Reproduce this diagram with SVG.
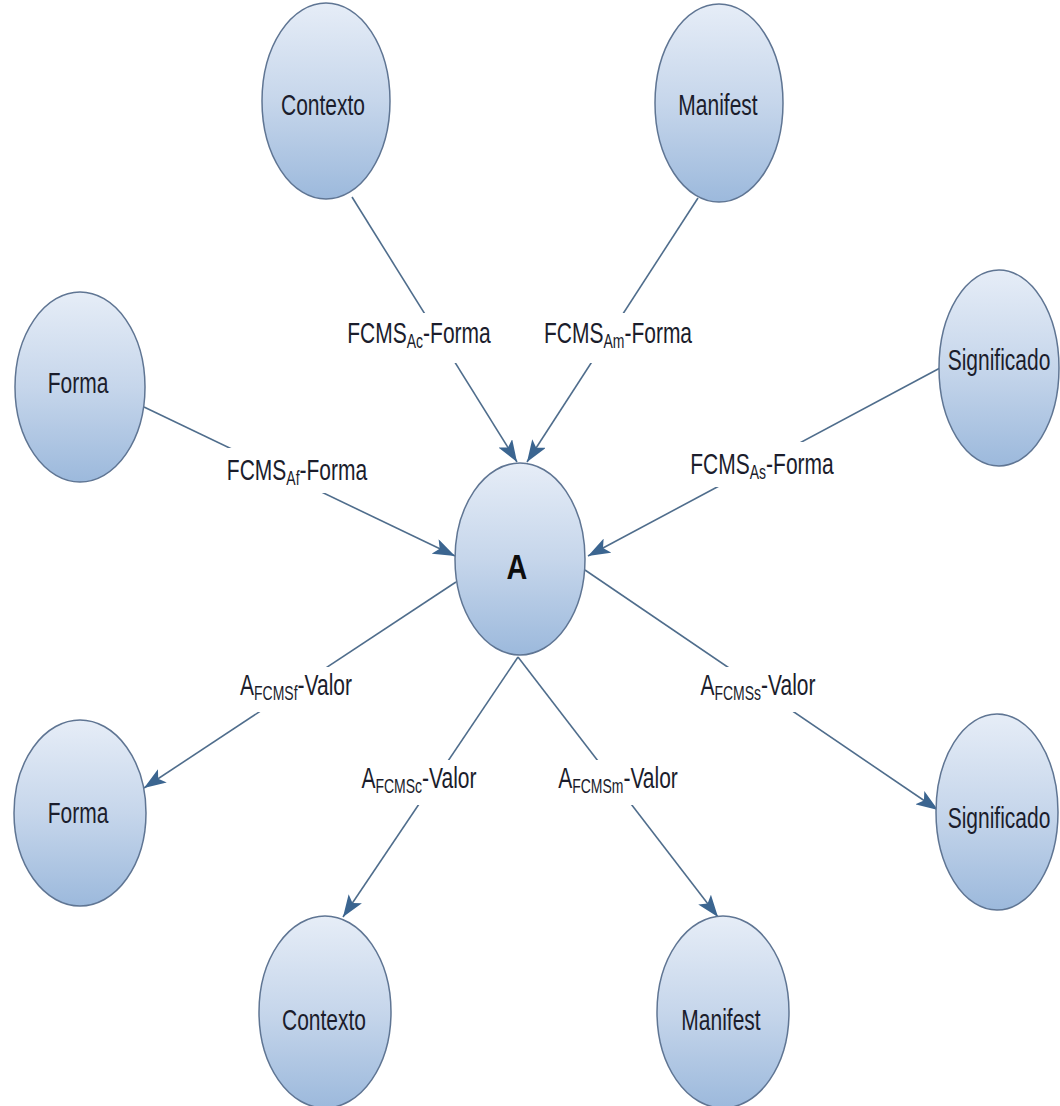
<svg xmlns="http://www.w3.org/2000/svg" width="1060" height="1106" viewBox="0 0 1060 1106">
  <defs>
    <linearGradient id="nodeFill" x1="0" y1="0" x2="0" y2="1">
      <stop offset="0" stop-color="#e6edf7"/>
      <stop offset="0.5" stop-color="#c6d6eb"/>
      <stop offset="1" stop-color="#9cb9dc"/>
    </linearGradient>
    <marker id="arrow" viewBox="0 0 22 16" refX="22" refY="8" markerWidth="22" markerHeight="16" markerUnits="userSpaceOnUse" orient="auto">
      <path d="M0,0 L22,8 L0,16 L5,8 Z" fill="#3b6590"/>
    </marker>
    <style>
      .node ellipse { fill: url(#nodeFill); stroke: #5f7593; stroke-width: 1.5; }
      .lbl { font-family: "Liberation Sans", Arial, sans-serif; font-size: 30px; fill: #1b1d2c; text-anchor: middle; }
      .big { font-family: "Liberation Sans", Arial, sans-serif; font-size: 36px; font-weight: bold; fill: #0d0d0d; text-anchor: middle; }
      .edge line { stroke: #4f6d8c; stroke-width: 1.6; marker-end: url(#arrow); }
      .gap { fill: #ffffff; }
    </style>
  </defs>

  <rect width="1060" height="1106" fill="#ffffff"/>

  <!-- connectors -->
  <g id="connectors" class="edge">
    <line x1="352" y1="197" x2="517" y2="462"/>
    <line x1="698" y1="198" x2="527" y2="462"/>
    <line x1="144" y1="407" x2="455" y2="556"/>
    <line x1="940" y1="368" x2="588" y2="556"/>
    <line x1="456" y1="582" x2="144" y2="788"/>
    <line x1="518" y1="657" x2="343" y2="917"/>
    <line x1="518" y1="657" x2="718" y2="917"/>
    <line x1="585" y1="570" x2="938" y2="810"/>
  </g>

  <!-- connector labels -->
  <g id="edge-labels">
    <rect class="gap" x="340" y="313" width="160" height="50"/>
    <text class="lbl" transform="translate(419,343) scale(0.7,1)">FCMS<tspan font-size="20" dy="5">Ac</tspan><tspan dy="-5">-Forma</tspan></text>

    <rect class="gap" x="538" y="313" width="160" height="50"/>
    <text class="lbl" transform="translate(618,343) scale(0.7,1)">FCMS<tspan font-size="20" dy="5">Am</tspan><tspan dy="-5">-Forma</tspan></text>

    <rect class="gap" x="217" y="448" width="160" height="45"/>
    <text class="lbl" transform="translate(297,480) scale(0.7,1)">FCMS<tspan font-size="20" dy="5">Af</tspan><tspan dy="-5">-Forma</tspan></text>

    <rect class="gap" x="682" y="442" width="160" height="45"/>
    <text class="lbl" transform="translate(762,474) scale(0.7,1)">FCMS<tspan font-size="20" dy="5">As</tspan><tspan dy="-5">-Forma</tspan></text>

    <rect class="gap" x="225" y="667" width="142" height="45"/>
    <text class="lbl" transform="translate(296,695) scale(0.7,1)">A<tspan font-size="20" dy="5">FCMSf</tspan><tspan dy="-5">-Valor</tspan></text>

    <rect class="gap" x="350" y="760" width="138" height="45"/>
    <text class="lbl" transform="translate(419,788) scale(0.7,1)">A<tspan font-size="20" dy="5">FCMSc</tspan><tspan dy="-5">-Valor</tspan></text>

    <rect class="gap" x="548" y="760" width="140" height="45"/>
    <text class="lbl" transform="translate(618,788) scale(0.7,1)">A<tspan font-size="20" dy="5">FCMSm</tspan><tspan dy="-5">-Valor</tspan></text>

    <rect class="gap" x="690" y="667" width="136" height="45"/>
    <text class="lbl" transform="translate(758,695) scale(0.7,1)">A<tspan font-size="20" dy="5">FCMSs</tspan><tspan dy="-5">-Valor</tspan></text>
  </g>

  <!-- nodes -->
  <g id="node-contexto-top" class="node">
    <ellipse cx="326" cy="101" rx="64" ry="98"/>
    <text class="lbl" transform="translate(323,115) scale(0.7,1)">Contexto</text>
  </g>
  <g id="node-manifest-top" class="node">
    <ellipse cx="719" cy="103" rx="64" ry="99"/>
    <text class="lbl" transform="translate(718,115) scale(0.7,1)">Manifest</text>
  </g>
  <g id="node-forma-left" class="node">
    <ellipse cx="80" cy="387" rx="65" ry="95"/>
    <text class="lbl" transform="translate(78,393) scale(0.7,1)">Forma</text>
  </g>
  <g id="node-significado-right" class="node">
    <ellipse cx="999" cy="368" rx="60" ry="98"/>
    <text class="lbl" transform="translate(999,370) scale(0.7,1)">Significado</text>
  </g>
  <g id="node-a" class="node">
    <ellipse cx="520" cy="559" rx="65" ry="96"/>
    <text class="big" transform="translate(517,579) scale(0.8,1)">A</text>
  </g>
  <g id="node-forma-bottom" class="node">
    <ellipse cx="80" cy="813" rx="66" ry="93"/>
    <text class="lbl" transform="translate(78,823) scale(0.7,1)">Forma</text>
  </g>
  <g id="node-significado-bottom" class="node">
    <ellipse cx="997" cy="812" rx="61" ry="98"/>
    <text class="lbl" transform="translate(999,828) scale(0.7,1)">Significado</text>
  </g>
  <g id="node-contexto-bottom" class="node">
    <ellipse cx="325" cy="1012" rx="66" ry="96"/>
    <text class="lbl" transform="translate(324,1030) scale(0.7,1)">Contexto</text>
  </g>
  <g id="node-manifest-bottom" class="node">
    <ellipse cx="723" cy="1012" rx="66" ry="96"/>
    <text class="lbl" transform="translate(721,1030) scale(0.7,1)">Manifest</text>
  </g>
</svg>
